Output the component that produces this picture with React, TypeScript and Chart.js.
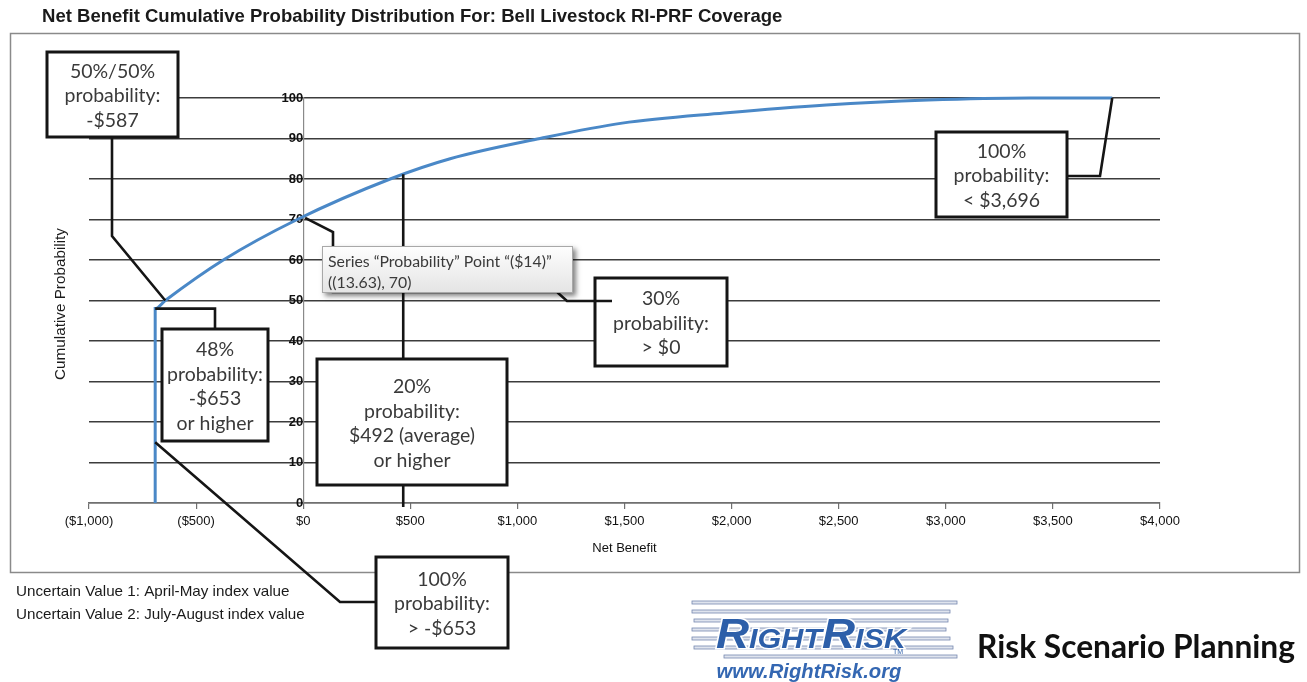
import React, { useEffect, useRef } from 'react';
import { Chart, registerables } from 'chart.js';

Chart.register(...registerables);

// ---------- data ----------
const chartTitle = 'Net Benefit Cumulative Probability Distribution For: Bell Livestock RI-PRF Coverage';
const seriesName = 'Probability';
const netBenefit = [-691, -691, -644, -373, -28, 406, 686, 1106, 1489, 1965, 2442, 2918, 3394, 3777];
const cumulativeProbability = [0, 48, 50, 60, 70, 80, 85, 90, 93.8, 96.3, 98.3, 99.5, 100, 100];
const xTickValues = [-1000, -500, 0, 500, 1000, 1500, 2000, 2500, 3000, 3500, 4000];
const yTickValues = [0, 10, 20, 30, 40, 50, 60, 70, 80, 90, 100];
const xAxisTitle = 'Net Benefit';
const yAxisTitle = 'Cumulative Probability';
const footnotes = ['Uncertain Value 1: April-May index value', 'Uncertain Value 2: July-August index value'];
const tooltipLines = ['Series \u201CProbability\u201D Point \u201C($14)\u201D', '((13.63), 70)'];
const brandUrl = 'www.RightRisk.org';
const brandTagline = 'Risk Scenario Planning';

const calloutMedian = ['50%/50%', 'probability:', '-$587'];
const calloutLow = ['48%', 'probability:', '-$653', 'or higher'];
const calloutMin = ['100%', 'probability:', '> -$653'];
const calloutAvg = ['20%', 'probability:', '$492 (average)', 'or higher'];
const calloutZero = ['30%', 'probability:', '> $0'];
const calloutMax = ['100%', 'probability:', '< $3,696'];

const medianPoint = [-644, 50];
const lowPoint = [-691, 48];
const minPoint = [-691, 15];
const avgPoint = [467, 81.2];
const zeroPoint = [9, 70.4];
const maxPoint = [3777, 100];

// ---------- helpers ----------
const ARIAL = '"Liberation Sans", Arial, sans-serif';
const CALIBRI = 'Lato, "Open Sans", sans-serif';

function fmtMoney(v: number): string {
  const s = '$' + Math.abs(v).toString().replace(/\B(?=(\d{3})+(?!\d))/g, ',');
  return v < 0 ? `(${s})` : s;
}

function fitSize(ctx: CanvasRenderingContext2D, text: string, width: number, style: string, family: string): number {
  ctx.font = `${style} 100px ${family}`;
  const w = ctx.measureText(text).width;
  return (100 * width) / w;
}

function drawLeader(ctx: CanvasRenderingContext2D, pts: number[][]) {
  ctx.save();
  ctx.strokeStyle = '#151515';
  ctx.lineWidth = 2.6;
  ctx.lineJoin = 'miter';
  ctx.beginPath();
  pts.forEach((p, i) => (i === 0 ? ctx.moveTo(p[0], p[1]) : ctx.lineTo(p[0], p[1])));
  ctx.stroke();
  ctx.restore();
}

function drawBox(ctx: CanvasRenderingContext2D, lines: string[], x1: number, y1: number, x2: number, y2: number, fontSize: number) {
  ctx.save();
  ctx.fillStyle = '#ffffff';
  ctx.fillRect(x1, y1, x2 - x1, y2 - y1);
  ctx.strokeStyle = '#151515';
  ctx.lineWidth = 3;
  ctx.strokeRect(x1, y1, x2 - x1, y2 - y1);
  ctx.fillStyle = '#3a3a3a';
  ctx.font = `${fontSize}px ${CALIBRI}`;
  ctx.textAlign = 'center';
  ctx.textBaseline = 'middle';
  const lh = 24.5;
  const cx = (x1 + x2) / 2;
  const cy = (y1 + y2) / 2 + 1.5;
  const start = cy - ((lines.length - 1) * lh) / 2;
  lines.forEach((t, i) => ctx.fillText(t, cx, start + i * lh));
  ctx.restore();
}

const decorPlugin = {
  id: 'decor',
  beforeDraw(chart: any) {
    const ctx: CanvasRenderingContext2D = chart.ctx;
    ctx.save();
    ctx.fillStyle = '#ffffff';
    ctx.fillRect(0, 0, chart.width, chart.height);

    // outer frame
    ctx.strokeStyle = '#8a8a8a';
    ctx.lineWidth = 1.5;
    ctx.strokeRect(10.5, 33.5, 1289, 539);

    // title
    const ts = fitSize(ctx, chartTitle, 741, 'bold', ARIAL);
    ctx.font = `bold ${ts}px ${ARIAL}`;
    ctx.fillStyle = '#1a1a1a';
    ctx.textBaseline = 'middle';
    ctx.textAlign = 'left';
    ctx.fillText(chartTitle, 42, 17);

    // y axis title
    const ys = fitSize(ctx, yAxisTitle, 152, 'normal', ARIAL);
    ctx.save();
    ctx.translate(61, 304);
    ctx.rotate(-Math.PI / 2);
    ctx.font = `${ys}px ${ARIAL}`;
    ctx.textAlign = 'center';
    ctx.fillText(yAxisTitle, 0, 0);
    ctx.restore();

    // footnotes
    const fs = fitSize(ctx, footnotes[1], 289, 'normal', ARIAL);
    ctx.font = `${fs}px ${ARIAL}`;
    ctx.fillStyle = '#1a1a1a';
    ctx.textAlign = 'left';
    ctx.fillText(footnotes[0], 16, 592);
    ctx.fillText(footnotes[1], 16, 615);

    // logo lines
    const lineYs = [601, 610, 619, 628, 637, 646, 655];
    const lineX1 = [692, 692, 694, 692, 692, 694, 724];
    const lineX2 = [957, 950, 948, 946, 950, 953, 957];
    lineYs.forEach((y, i) => {
      ctx.fillStyle = '#dfe4ee';
      ctx.fillRect(lineX1[i], y, lineX2[i] - lineX1[i], 3);
      ctx.strokeStyle = '#7688b0';
      ctx.lineWidth = 0.8;
      ctx.strokeRect(lineX1[i], y, lineX2[i] - lineX1[i], 3);
    });

    // logo word
    const parts: [string, number][] = [['R', 42], ['IGHT', 28], ['R', 42], ['ISK', 28]];
    let total = 0;
    parts.forEach(([t, s]) => {
      ctx.font = `italic bold ${s}px ${ARIAL}`;
      total += ctx.measureText(t).width;
    });
    const sx = 190 / total;
    ctx.save();
    ctx.translate(716, 648);
    ctx.scale(sx, 1);
    let px = 0;
    parts.forEach(([t, s]) => {
      ctx.font = `italic bold ${s}px ${ARIAL}`;
      ctx.textBaseline = 'alphabetic';
      ctx.lineWidth = 3;
      ctx.strokeStyle = '#ffffff';
      ctx.strokeText(t, px, 0);
      ctx.fillStyle = '#2d5fa9';
      ctx.fillText(t, px, 0);
      px += ctx.measureText(t).width;
    });
    ctx.restore();
    ctx.font = `7px ${ARIAL}`;
    ctx.fillStyle = '#2d5fa9';
    ctx.textBaseline = 'middle';
    ctx.fillText('TM', 893, 652);

    const us = fitSize(ctx, brandUrl, 185, 'italic bold', ARIAL);
    ctx.font = `italic bold ${us}px ${ARIAL}`;
    ctx.fillStyle = '#3467b2';
    ctx.textAlign = 'center';
    ctx.fillText(brandUrl, 809, 672);

    const rs = fitSize(ctx, brandTagline, 318, 'bold', CALIBRI);
    ctx.font = `bold ${rs}px ${CALIBRI}`;
    ctx.fillStyle = '#111111';
    ctx.textAlign = 'left';
    ctx.fillText(brandTagline, 977, 648);
    ctx.restore();
  },
  afterDraw(chart: any) {
    const ctx: CanvasRenderingContext2D = chart.ctx;
    const xs = chart.scales.x;
    const ysc = chart.scales.y;
    const dx = (v: number) => xs.getPixelForValue(v);
    const dy = (v: number) => ysc.getPixelForValue(v);
    const bs = fitSize(ctx, 'probability:', 96, 'normal', CALIBRI);

    drawLeader(ctx, [[112, 137], [112, 236], [dx(medianPoint[0]), dy(medianPoint[1])]]);
    drawLeader(ctx, [[215, 329], [215, dy(lowPoint[1])], [dx(lowPoint[0]), dy(lowPoint[1])]]);
    drawLeader(ctx, [[dx(minPoint[0]), dy(minPoint[1])], [340, 602], [376, 602]]);
    drawLeader(ctx, [[dx(avgPoint[0]), dy(avgPoint[1])], [dx(avgPoint[0]), dy(0) + 4]]);
    drawLeader(ctx, [[1067, 176], [1100, 176], [dx(maxPoint[0]), dy(maxPoint[1])]]);

    drawBox(ctx, calloutMedian, 47, 52, 178, 137, bs);
    drawBox(ctx, calloutLow, 162, 329, 268, 441, bs);
    drawBox(ctx, calloutMin, 376, 557, 508, 648, bs);
    drawBox(ctx, calloutAvg, 317, 359, 507, 485, bs);
    drawBox(ctx, calloutZero, 595, 278, 727, 366, bs);
    drawBox(ctx, calloutMax, 936, 132, 1067, 217, bs);

    drawLeader(ctx, [[dx(zeroPoint[0]), dy(zeroPoint[1])], [333, 232], [333, 292], [557, 292], [567, 301], [612, 301]]);

    // tooltip
    ctx.save();
    const tx = 322, ty = 246, tw = 251, th = 47;
    ctx.shadowColor = 'rgba(0,0,0,0.5)';
    ctx.shadowBlur = 5;
    ctx.shadowOffsetX = 3;
    ctx.shadowOffsetY = 3;
    const g = ctx.createLinearGradient(0, ty, 0, ty + th);
    g.addColorStop(0, '#fefefe');
    g.addColorStop(1, '#e4e4e4');
    ctx.fillStyle = g;
    ctx.fillRect(tx, ty, tw, th);
    ctx.shadowColor = 'transparent';
    ctx.strokeStyle = '#a8a8a8';
    ctx.lineWidth = 1;
    ctx.strokeRect(tx + 0.5, ty + 0.5, tw - 1, th - 1);
    const ttS = fitSize(ctx, tooltipLines[0], 224, 'normal', CALIBRI);
    ctx.font = `${ttS}px ${CALIBRI}`;
    ctx.fillStyle = '#3a3a3a';
    ctx.textBaseline = 'middle';
    ctx.textAlign = 'left';
    ctx.fillText(tooltipLines[0], 328, 262);
    ctx.fillText(tooltipLines[1], 328, 283);
    ctx.restore();
  },
};

export default function App() {
  const ref = useRef<HTMLCanvasElement>(null);
  useEffect(() => {
    document.body.style.margin = '0';
    const canvas = ref.current;
    if (!canvas) return;
    const chart = new Chart(canvas, {
      type: 'line',
      data: {
        datasets: [
          {
            label: seriesName,
            data: netBenefit.map((x, i) => ({ x, y: cumulativeProbability[i] })),
            borderColor: '#4a88c7',
            borderWidth: 3,
            pointRadius: 0,
            fill: false,
            cubicInterpolationMode: 'monotone',
            clip: false,
          } as any,
        ],
      },
      options: {
        responsive: false,
        animation: false,
        devicePixelRatio: 1,
        layout: { padding: { left: 89, right: 147, top: 98, bottom: 119 } },
        plugins: { legend: { display: false }, tooltip: { enabled: false }, title: { display: false } },
        scales: {
          x: {
            type: 'linear',
            position: 'bottom',
            min: xTickValues[0],
            max: xTickValues[xTickValues.length - 1],
            afterFit: (s: any) => {
              s.height = 60;
            },
            afterBuildTicks: (s: any) => {
              s.ticks = xTickValues.map((v) => ({ value: v }));
            },
            ticks: {
              callback: (v: any) => fmtMoney(Number(v)),
              color: '#111111',
              font: { family: ARIAL, size: 13 },
              padding: 5,
              maxRotation: 0,
              autoSkip: false,
            },
            grid: { drawOnChartArea: false, drawTicks: true, tickLength: 6, color: '#707070', lineWidth: 1.2 },
            border: { display: true, color: '#707070', width: 1.2 },
            title: {
              display: true,
              text: xAxisTitle,
              color: '#111111',
              font: { family: ARIAL, size: 13 },
              padding: { top: 0, bottom: 7 },
            },
          },
          y: {
            type: 'linear',
            axis: 'y',
            position: { x: 0 },
            min: yTickValues[0],
            max: yTickValues[yTickValues.length - 1],
            afterBuildTicks: (s: any) => {
              s.ticks = yTickValues.map((v) => ({ value: v }));
            },
            ticks: { color: '#111111', font: { family: ARIAL, size: 13, weight: 'bold' }, padding: 12 },
            grid: { color: '#3c3c3c', lineWidth: 1.6, drawTicks: false },
            border: { display: true, color: '#8a8a8a', width: 1.2 },
          } as any,
        },
      },
      plugins: [decorPlugin],
    });
    return () => chart.destroy();
  }, []);
  return (
    <div style={{ width: 1307, height: 682, background: '#fff' }}>
      <canvas ref={ref} width={1307} height={682} style={{ display: 'block', width: 1307, height: 682 }} />
    </div>
  );
}
